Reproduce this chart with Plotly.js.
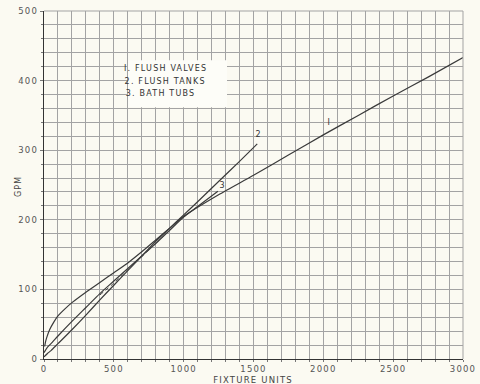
<!DOCTYPE html>
<html>
<head>
<meta charset="utf-8">
<script src="https://cdn.plot.ly/plotly-3.0.1.min.js"></script>
<style>
html,body{margin:0;padding:0;background:#fbfaf2;}
#chart{width:480px;height:384px;}
.main-svg text{letter-spacing:1.2px;}
</style>
</head>
<body>
<div id="chart"></div>
<script>
// Curve 1: flush valves
const valvesX = [5, 10, 20, 40, 70, 100, 150, 200, 300, 400, 500, 600, 700, 800, 900, 1000, 1250, 1500, 1750, 2000, 2250, 2500, 2750, 3000];
const valvesY = [18, 24, 31, 42, 53, 62, 72, 81, 96, 110, 124, 138, 154, 171, 188, 205, 236, 264, 293, 322, 350, 378, 405, 433];
// Curve 2: flush tanks
const tanksX = [0, 25, 50, 100, 200, 300, 400, 500, 600, 700, 800, 900, 1000, 1100, 1250, 1400, 1527];
const tanksY = [3, 8, 12, 22, 42, 63, 85, 106, 127, 148, 169, 188, 207, 226, 255, 284, 309];
// Curve 3: bath tubs
const tubsX = [0, 25, 50, 100, 200, 300, 400, 500, 600, 700, 800, 900, 1000, 1100, 1245];
const tubsY = [9, 17, 22, 33, 54, 74, 94, 112, 130, 148, 166, 185, 204, 219, 241];
// dashed auxiliary curve
const dashX = [400, 500, 600, 700, 800, 900, 960];
const dashY = [92, 109, 128, 147, 166, 185, 198];

const legendLines = ["I. FLUSH VALVES", "2. FLUSH TANKS", "3. BATH TUBS"];
const curveLabels = ["I", "2", "3"];
const curveLabelX = [2040, 1538, 1275];
const curveLabelY = [340, 322, 249];

const xTicks = [0, 500, 1000, 1500, 2000, 2500, 3000];
const yTicks = [0, 100, 200, 300, 400, 500];
const xTitle = "FIXTURE UNITS";
const yTitle = "GPM";

const lineStyle = {color: '#3a3a3a', width: 1.2, shape: 'spline', smoothing: 0.6};
const traces = [
  {x: valvesX, y: valvesY, mode: 'lines', line: lineStyle},
  {x: tanksX, y: tanksY, mode: 'lines', line: lineStyle},
  {x: tubsX, y: tubsY, mode: 'lines', line: lineStyle},
  {x: dashX, y: dashY, mode: 'lines', line: {color: '#444', width: 1, dash: '4px,3px', shape: 'spline'}}
];
traces.forEach(t => { t.showlegend = false; t.hoverinfo = 'skip'; });

const tickFont = {family: 'DejaVu Sans, sans-serif', size: 8.5, color: '#555'};
const txtFont = {family: 'DejaVu Sans, sans-serif', size: 8, color: '#333'};
const annotations = [];
legendLines.forEach((txt, i) => {
  annotations.push({xref: 'paper', yref: 'paper', x: (131 - 44) / 419, y: (358.7 - (68 + 12.8 * i)) / 348,
    text: txt, showarrow: false, xanchor: 'left', yanchor: 'middle', font: txtFont});
});
curveLabels.forEach((txt, i) => {
  annotations.push({x: curveLabelX[i], y: curveLabelY[i], text: txt, showarrow: false, font: txtFont});
});
annotations.push({xref: 'paper', yref: 'paper', x: (253 - 44) / 419, y: -(379.5 - 358.7) / 348,
  text: xTitle, showarrow: false, xanchor: 'center', yanchor: 'middle', font: {family: 'DejaVu Sans, sans-serif', size: 8.5, color: '#444'}});
annotations.push({xref: 'paper', yref: 'paper', x: -(44 - 18) / 419, y: (358.7 - 186) / 348,
  text: yTitle, showarrow: false, textangle: -90, xanchor: 'center', yanchor: 'middle', font: {family: 'DejaVu Sans, sans-serif', size: 8, color: '#444'}});

const gridC = '#a3a3a3';
const layout = {
  width: 480, height: 384,
  margin: {l: 44, r: 17, t: 11, b: 25},
  paper_bgcolor: '#fbfaf2', plot_bgcolor: '#fbfaf2',
  showlegend: false,
  xaxis: {
    range: [0, 3000], tickvals: xTicks, ticktext: xTicks.map(String),
    showgrid: true, gridcolor: gridC, gridwidth: 1,
    showline: true, linecolor: '#333', linewidth: 1.2,
    ticks: 'outside', ticklen: 2, tickcolor: '#777',
    minor: {dtick: 100, showgrid: true, gridcolor: gridC, gridwidth: 1, ticks: 'outside', ticklen: 2, tickcolor: '#777'},
    zeroline: false, tickfont: tickFont
  },
  yaxis: {
    range: [0, 500], tickvals: yTicks, ticktext: yTicks.map(String),
    showgrid: true, gridcolor: gridC, gridwidth: 1,
    showline: true, linecolor: '#333', linewidth: 1.2,
    ticks: 'outside', ticklen: 3, tickcolor: '#777',
    minor: {dtick: 20, showgrid: true, gridcolor: gridC, gridwidth: 1, ticks: 'outside', ticklen: 2, tickcolor: '#777'},
    zeroline: false, tickfont: tickFont
  },
  shapes: [
    {type: 'rect', xref: 'paper', yref: 'paper', x0: (128 - 44) / 419, x1: (227 - 44) / 419,
     y0: (358.7 - 107) / 348, y1: (358.7 - 60) / 348, fillcolor: '#fdfdf8', line: {width: 0}, layer: 'above'},
    {type: 'line', xref: 'paper', yref: 'paper', x0: 1, x1: 1, y0: 0, y1: 1, line: {color: gridC, width: 1}},
    {type: 'line', xref: 'paper', yref: 'paper', x0: 0, x1: 1, y0: 1, y1: 1, line: {color: gridC, width: 1}}
  ],
  annotations: annotations
};

Plotly.newPlot('chart', traces, layout, {displayModeBar: false, staticPlot: true});
</script>
</body>
</html>
